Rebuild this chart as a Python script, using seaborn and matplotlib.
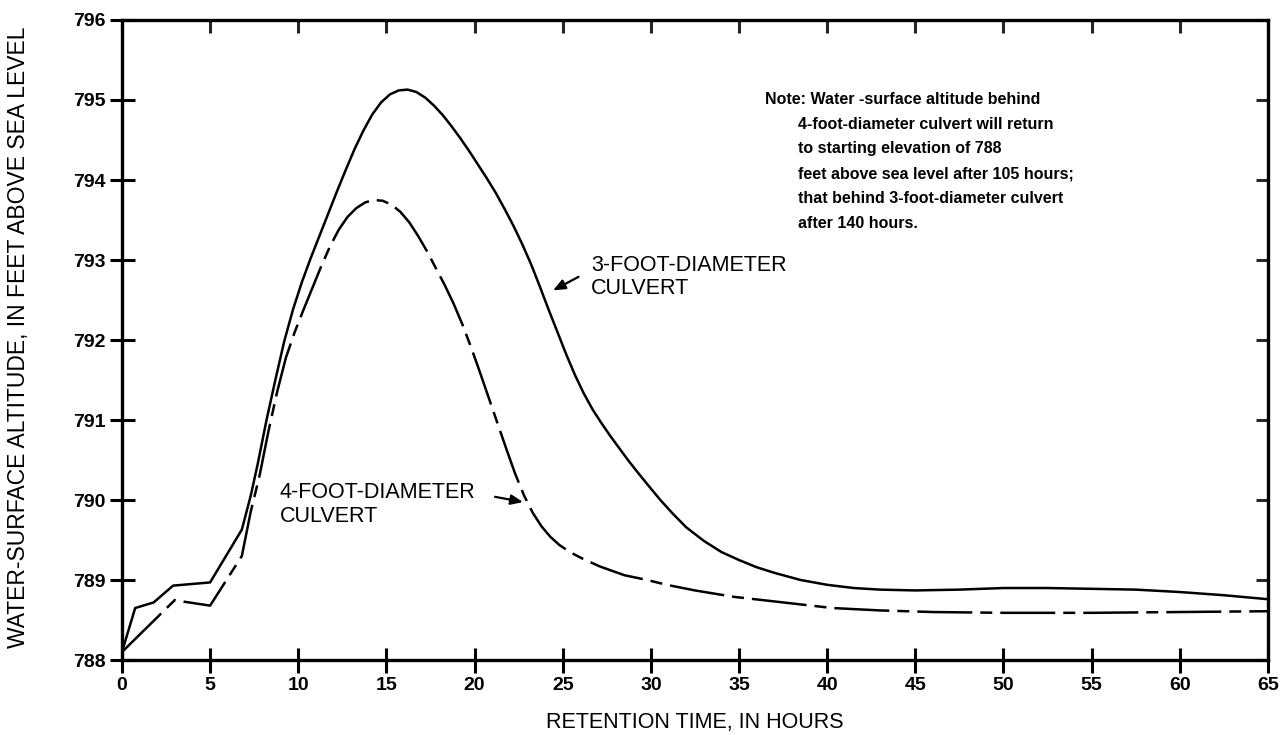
import matplotlib
matplotlib.use("Agg")
import matplotlib.pyplot as plt
import pandas as pd
import seaborn as sns

# ---- data ----
hours_3ft = [0, 0.75, 1.8, 2.9, 5.0, 6.8, 7.3, 7.7, 8.2, 8.7, 9.2, 9.7, 10.2, 10.7,
             11.2, 11.7, 12.2, 12.7, 13.2, 13.7, 14.2, 14.7, 15.2, 15.7, 16.2,
             16.7, 17.2, 17.7, 18.2, 18.7, 19.2, 19.7, 20.2, 20.7, 21.2, 21.7,
             22.2, 22.7, 23.2, 23.7, 24.2, 24.7, 25.2, 25.7, 26.2, 26.7, 27.2,
             27.7, 28.2, 28.7, 29.2, 29.9, 30.5, 31.2, 32.0, 33.0, 34.0, 35.0,
             36.0, 37.0, 38.5, 40.0, 41.5, 43.0, 45.0, 47.5, 50.0, 52.5, 55.0,
             57.5, 60.0, 62.5, 65.0]
alt_3ft = [788.1, 788.65, 788.72, 788.93, 788.97, 789.63, 790.05, 790.45, 791.0,
           791.5, 791.98, 792.38, 792.72, 793.02, 793.3, 793.58, 793.86, 794.13,
           794.39, 794.62, 794.82, 794.97, 795.07, 795.12, 795.13, 795.1, 795.03,
           794.93, 794.81, 794.67, 794.52, 794.36, 794.19, 794.02, 793.84, 793.64,
           793.43, 793.2, 792.95, 792.67, 792.38, 792.1, 791.82, 791.56, 791.33,
           791.13, 790.96, 790.8, 790.65, 790.5, 790.36, 790.17, 790.01, 789.84,
           789.66, 789.49, 789.35, 789.25, 789.16, 789.09, 789.0, 788.94, 788.9,
           788.88, 788.87, 788.88, 788.9, 788.9, 788.89, 788.88, 788.85, 788.81,
           788.76]

hours_4ft = [0, 3.0, 3.5, 5.0, 6.8, 7.3, 7.8, 8.3, 8.8, 9.3, 9.8, 10.3, 10.8, 11.3,
             11.8, 12.3, 12.8, 13.3, 13.8, 14.3, 14.8, 15.3, 15.8, 16.3, 16.8,
             17.3, 17.8, 18.3, 18.8, 19.3, 19.8, 20.3, 20.8, 21.3, 21.8, 22.3,
             22.8, 23.3, 23.8, 24.3, 24.8, 25.4, 26.1, 27.1, 28.5, 29.8, 30.9,
             32.5, 34.7, 37.5, 40.3, 43.0, 46.0, 50.0, 55.0, 60.0, 65.0]
alt_4ft = [788.1, 788.75, 788.73, 788.68, 789.3, 789.85, 790.3, 790.85, 791.35,
           791.78, 792.1, 792.38, 792.65, 792.92, 793.17, 793.38, 793.54, 793.65,
           793.72, 793.75, 793.74, 793.69, 793.6, 793.47, 793.3, 793.11, 792.9,
           792.69, 792.46, 792.2, 791.91, 791.6, 791.28, 790.96, 790.64, 790.33,
           790.06, 789.84, 789.67, 789.54, 789.44, 789.35, 789.27, 789.17, 789.06,
           789.0, 788.94, 788.87, 788.79, 788.72, 788.65, 788.62, 788.6, 788.59,
           788.59, 788.6, 788.61]

x_ticks = list(range(0, 70, 5))
y_ticks = list(range(788, 797))

note_lines = [
    "Note: Water -surface altitude behind",
    "4-foot-diameter culvert will return",
    "to starting elevation of 788",
    "feet above sea level after 105 hours;",
    "that behind 3-foot-diameter culvert",
    "after 140 hours.",
]

lab3 = ["3-FOOT-DIAMETER", "CULVERT"]
lab4 = ["4-FOOT-DIAMETER", "CULVERT"]

# ---- build frame ----
df = pd.concat([
    pd.DataFrame({"hours": hours_3ft, "alt": alt_3ft, "series": "3ft"}),
    pd.DataFrame({"hours": hours_4ft, "alt": alt_4ft, "series": "4ft"}),
], ignore_index=True)

sns.set_theme(style="white")
plt.rcParams['font.family'] = ['Liberation Sans', 'DejaVu Sans']

fig = plt.figure(figsize=(12.81, 7.35), dpi=100)
ax = fig.add_axes([0.0952, 0.1020, 0.8946, 0.8708])

sns.lineplot(data=df, x="hours", y="alt", hue="series", style="series",
             palette={"3ft": "black", "4ft": "black"},
             dashes={"3ft": "", "4ft": (22, 3.2, 4.8, 3.2)},
             linewidth=1.8, sort=False, estimator=None, legend=False, ax=ax)

ax.set_xlim(0, 65)
ax.set_ylim(788, 796)
ax.set_xticks(x_ticks)
ax.set_yticks(y_ticks)
ax.set_xticklabels([str(v) for v in x_ticks], fontsize=14, fontweight="bold")
ax.set_yticklabels([str(v) for v in y_ticks], fontsize=14, fontweight="bold")

for s in ax.spines.values():
    s.set_linewidth(2.4)
    s.set_color("black")

ax.tick_params(axis="both", which="major", direction="inout", length=18,
               width=2.2, color="black", labelcolor="black",
               bottom=True, left=True, top=False, right=False, pad=3)
# inward ticks on top and right
ax2 = ax.secondary_xaxis("top")
ax2.set_xticks(x_ticks)
ax2.tick_params(direction="in", length=9, width=2.2, labeltop=False)
ax2.spines["top"].set_visible(False)
ax3 = ax.secondary_yaxis("right")
ax3.set_yticks(y_ticks)
ax3.tick_params(direction="in", length=9, width=2.2, labelright=False)
ax3.spines["right"].set_visible(False)

ax.set_xlabel("RETENTION TIME, IN HOURS", fontsize=15.5, labelpad=13, color="black")
ax.set_ylabel("WATER-SURFACE ALTITUDE, IN FEET ABOVE SEA LEVEL", fontsize=16.5,
              color="black")
ax.yaxis.set_label_coords(-0.080, 0.505)

# note text
ys = [795.0, 794.69, 794.39, 794.08, 793.77, 793.46]
for i, (line, yv) in enumerate(zip(note_lines, ys)):
    ax.text(36.47 if i == 0 else 38.34, yv, line, fontsize=11.5,
            fontweight="bold", va="center", ha="left", color="black")

# curve labels with arrows
arrow_kw = dict(arrowstyle="-|>,head_length=0.6,head_width=0.25",
                color="black", lw=1.6, shrinkA=0, shrinkB=0)
for line, yv in zip(lab3, [792.93, 792.65]):
    ax.text(26.6, yv, line, fontsize=15.5, va="center", ha="left", color="black")
ax.annotate("", xy=(24.45, 792.62), xytext=(25.9, 792.79), arrowprops=arrow_kw)
for line, yv in zip(lab4, [790.09, 789.79]):
    ax.text(8.96, yv, line, fontsize=15.5, va="center", ha="left", color="black")
ax.annotate("", xy=(22.75, 789.975), xytext=(21.16, 790.04), arrowprops=arrow_kw)

fig.savefig("out.png", dpi=100, facecolor="white")
